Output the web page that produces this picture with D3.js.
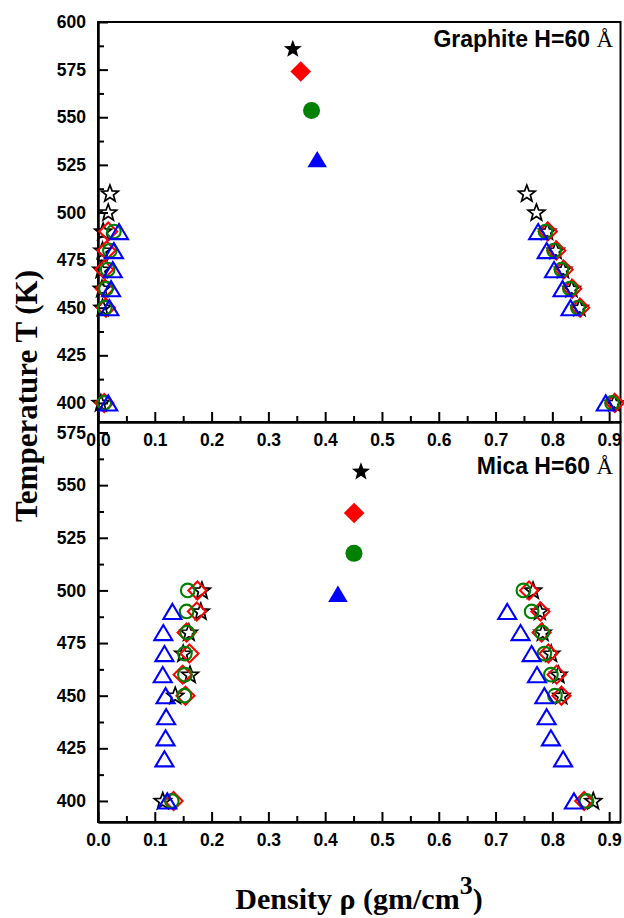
<!DOCTYPE html>
<html>
<head>
<meta charset="utf-8">
<script src="https://cdn.jsdelivr.net/npm/d3@7"></script>
<style>
  body { margin: 0; background: #fff; }
  svg { display: block; }
</style>
</head>
<body>
<svg id="chart" width="624" height="918"></svg>
<script>
// ---- Data: [density rho (gm/cm^3), temperature T (K)] ----
// Graphite, H = 60 Å — coexistence points (open symbols)
const graphiteStar = [
  [0.021, 510], [0.018, 500], [0.009, 490], [0.008, 480], [0.006, 470], [0.007, 460], [0.008, 450], [0.005, 400],
  [0.755, 510], [0.772, 500], [0.791, 490], [0.806, 480], [0.819, 470], [0.834, 460], [0.848, 450], [0.909, 400]
];
const graphiteDiamond = [
  [0.018, 490], [0.015, 480], [0.011, 470], [0.012, 460], [0.014, 450], [0.011, 400],
  [0.792, 490], [0.807, 480], [0.820, 470], [0.835, 460], [0.849, 450], [0.910, 400]
];
const graphiteCircle = [
  [0.028, 490], [0.021, 480], [0.017, 470], [0.014, 460], [0.012, 450], [0.011, 400],
  [0.788, 490], [0.803, 480], [0.816, 470], [0.831, 460], [0.845, 450], [0.905, 400]
];
const graphiteTriangle = [
  [0.037, 490], [0.028, 480], [0.026, 470], [0.023, 460], [0.020, 450], [0.018, 400],
  [0.775, 490], [0.790, 480], [0.803, 470], [0.818, 460], [0.832, 450], [0.894, 400]
];
// Graphite critical points (filled symbols): star, diamond, circle, triangle
const graphiteCritical = [[0.343, 586], [0.357, 574], [0.376, 553.5], [0.386, 528]];

// Mica, H = 60 Å — coexistence points (open symbols)
const micaStar = [
  [0.183, 500], [0.181, 490], [0.160, 480], [0.150, 470], [0.162, 460], [0.136, 450], [0.114, 400],
  [0.766, 500], [0.778, 490], [0.783, 480], [0.798, 470], [0.811, 460], [0.816, 450], [0.872, 400]
];
const micaDiamond = [
  [0.175, 500], [0.174, 490], [0.156, 480], [0.161, 470], [0.149, 460], [0.154, 450], [0.133, 400],
  [0.759, 500], [0.779, 490], [0.781, 480], [0.793, 470], [0.8075, 460], [0.816, 450], [0.856, 400]
];
const micaCircle = [
  [0.158, 500], [0.156, 490], [0.157, 480], [0.153, 470], [0.153, 460], [0.152, 450], [0.130, 400],
  [0.749, 500], [0.7635, 490], [0.782, 480], [0.786, 470], [0.7975, 460], [0.8046, 450], [0.860, 400]
];
const micaTriangle = [
  [0.131, 490], [0.115, 480], [0.117, 470], [0.114, 460], [0.119, 450], [0.120, 440], [0.119, 430], [0.117, 420], [0.122, 400],
  [0.7206, 490], [0.744, 480], [0.7635, 470], [0.773, 460], [0.786, 450], [0.790, 440], [0.7975, 430], [0.819, 420], [0.838, 400]
];
// Mica critical points (filled symbols): star, diamond, circle, triangle
const micaCritical = [[0.463, 556.6], [0.451, 536.8], [0.4507, 517.6], [0.4225, 498.4]];

// Axis ticks
const xTicks = [0, 0.1, 0.2, 0.3, 0.4, 0.5, 0.6, 0.7, 0.8, 0.9];
const xMinorTicks = [0.05, 0.15, 0.25, 0.35, 0.45, 0.55, 0.65, 0.75, 0.85];
const yTicksTop = [400, 425, 450, 475, 500, 525, 550, 575, 600];
const yMinorTop = [412.5, 437.5, 462.5, 487.5, 512.5, 537.5, 562.5, 587.5];
const yTicksBottom = [400, 425, 450, 475, 500, 525, 550, 575];
const yMinorBottom = [412.5, 437.5, 462.5, 487.5, 512.5, 537.5, 562.5];

// ---- Layout ----
const svg = d3.select("#chart");
const left = 98, right = 620.5;
const topPanel = { y0: 22, y1: 422 };
const botPanel = { y0: 422, y1: 822 };

const x = d3.scaleLinear().domain([0, 0.92]).range([left, right]);
const yTop = d3.scaleLinear().domain([390, 600]).range([topPanel.y1, topPanel.y0]);
const yBot = d3.scaleLinear().domain([390, 580]).range([botPanel.y1, botPanel.y0]);

const sans = "'Liberation Sans', Arial, Helvetica, sans-serif";
const serif = "'Liberation Serif', 'Times New Roman', Times, serif";

// ---- Symbol shapes (size argument = half-extent in px) ----
const shapes = {
  star: { draw(ctx, r) {
    const ri = r * 0.42;
    for (let i = 0; i < 10; i++) {
      const a = -Math.PI / 2 + i * Math.PI / 5;
      const rr = i % 2 === 0 ? r : ri;
      const px = rr * Math.cos(a), py = rr * Math.sin(a) + r * 0.05;
      if (i === 0) ctx.moveTo(px, py); else ctx.lineTo(px, py);
    }
    ctx.closePath();
  }},
  diamond: { draw(ctx, r) {
    ctx.moveTo(0, -r); ctx.lineTo(r, 0); ctx.lineTo(0, r); ctx.lineTo(-r, 0); ctx.closePath();
  }},
  circle: { draw(ctx, r) {
    ctx.moveTo(r, 0); ctx.arc(0, 0, r, 0, 2 * Math.PI);
  }},
  triangle: { draw(ctx, r) {
    const h = r * 1.68;
    ctx.moveTo(0, -h / 2); ctx.lineTo(r, h / 2); ctx.lineTo(-r, h / 2); ctx.closePath();
  }}
};

const openStyle = {
  star:     { color: "#000000", r: 8.8, sw: 1.7 },
  diamond:  { color: "#ff0000", r: 9, sw: 2.1 },
  circle:   { color: "#008000", r: 6.8, sw: 2.1 },
  triangle: { color: "#0000ff", r: 9, sw: 2.1 }
};
const filledStyle = {
  star:     { color: "#000000", r: 9.5 },
  diamond:  { color: "#ff0000", r: 10.3 },
  circle:   { color: "#008000", r: 8.5 },
  triangle: { color: "#0000ff", r: 9.8 }
};
const criticalOrder = ["star", "diamond", "circle", "triangle"];

function drawPanel(yScale, panel, sets, critical, yTicks, yMinor, label) {
  const g = svg.append("g");

  // frame
  g.append("rect")
    .attr("x", left).attr("y", panel.y0)
    .attr("width", right - left).attr("height", panel.y1 - panel.y0)
    .attr("fill", "none").attr("stroke", "#000").attr("stroke-width", 2);

  // x axis: ticks pointing inward
  const xAxis = d3.axisBottom(x).tickValues(xTicks).tickSize(-10).tickSizeOuter(0)
    .tickPadding(12).tickFormat(d3.format(".1f"));
  const xMinor = d3.axisBottom(x).tickValues(xMinorTicks).tickSize(-6).tickSizeOuter(0).tickFormat("");
  const gxMinor = g.append("g").attr("transform", `translate(0,${panel.y1})`).call(xMinor);
  const gx = g.append("g").attr("class", "xaxis").attr("transform", `translate(0,${panel.y1})`).call(xAxis);

  // y axis: ticks pointing inward
  const yAxis = d3.axisLeft(yScale).tickValues(yTicks).tickSize(-10).tickSizeOuter(0)
    .tickPadding(12).tickFormat(d3.format("d"));
  const yMinorAxis = d3.axisLeft(yScale).tickValues(yMinor).tickSize(-6).tickSizeOuter(0).tickFormat("");
  const gyMinor = g.append("g").attr("transform", `translate(${left},0)`).call(yMinorAxis);
  const gy = g.append("g").attr("transform", `translate(${left},0)`).call(yAxis);

  [gx, gy, gxMinor, gyMinor].forEach(a => {
    a.select(".domain").attr("stroke-width", 2);
    a.selectAll(".tick line").attr("stroke-width", 2);
    a.selectAll("text").attr("font-family", sans).attr("font-weight", "bold")
      .attr("font-size", 17.5).attr("fill", "#000");
  });

  // coexistence points (open symbols)
  sets.forEach(([kind, data]) => {
    const st = openStyle[kind];
    const sym = d3.symbol().type(shapes[kind]).size(st.r);
    g.append("g").selectAll("path").data(data).join("path")
      .attr("transform", d => `translate(${x(d[0])},${yScale(d[1])})`)
      .attr("d", sym)
      .attr("fill", "none").attr("stroke", st.color).attr("stroke-width", st.sw)
      .attr("stroke-linejoin", "miter");
  });

  // critical points (filled symbols)
  g.append("g").selectAll("path").data(critical).join("path")
    .attr("transform", d => `translate(${x(d[0])},${yScale(d[1])})`)
    .attr("d", (d, i) => d3.symbol().type(shapes[criticalOrder[i]]).size(filledStyle[criticalOrder[i]].r)())
    .attr("fill", (d, i) => filledStyle[criticalOrder[i]].color);

  // panel label
  const t = g.append("text")
    .attr("x", label.x).attr("y", label.y)
    .attr("text-anchor", "end")
    .attr("font-family", sans).attr("font-weight", "bold").attr("font-size", 23).attr("fill", "#000");
  t.append("tspan").text(label.text + " ");
  t.append("tspan").attr("font-family", serif).attr("font-weight", "normal").text("Å");
  return gx;
}

const gxBottom = drawPanel(yBot, botPanel,
  [["star", micaStar], ["diamond", micaDiamond], ["circle", micaCircle], ["triangle", micaTriangle]],
  micaCritical, yTicksBottom, yMinorBottom,
  { x: 613, y: 474, text: "Mica H=60" });

const gxTop = drawPanel(yTop, topPanel,
  [["star", graphiteStar], ["diamond", graphiteDiamond], ["circle", graphiteCircle], ["triangle", graphiteTriangle]],
  graphiteCritical, yTicksTop, yMinorTop,
  { x: 613, y: 47, text: "Graphite H=60" });

// upper panel's x tick labels sit over the lower panel
svg.node().appendChild(gxTop.node());

// axis titles
svg.append("text")
  .attr("transform", "translate(37,396) rotate(-90)")
  .attr("text-anchor", "middle")
  .attr("font-family", serif).attr("font-weight", "bold").attr("font-size", 31)
  .text("Temperature T (K)");

const xt = svg.append("text")
  .attr("x", 359).attr("y", 909)
  .attr("text-anchor", "middle")
  .attr("font-family", serif).attr("font-weight", "bold").attr("font-size", 30);
xt.append("tspan").text("Density ρ (gm/cm");
xt.append("tspan").attr("font-size", 26).attr("dy", -15).text("3");
xt.append("tspan").attr("dy", 15).text(")");
</script>
</body>
</html>
